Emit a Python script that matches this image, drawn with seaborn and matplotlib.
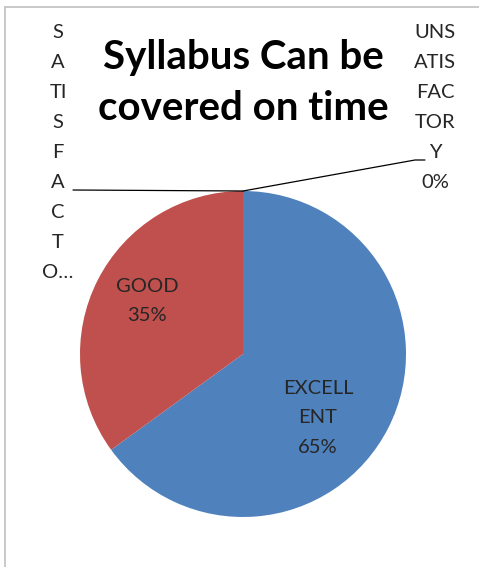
import matplotlib
matplotlib.use("Agg")
import matplotlib.pyplot as plt
import seaborn as sns
import numpy as np
from matplotlib.lines import Line2D

# data
categories = ["EXCELLENT", "GOOD", "SATISFACTORY", "UNSATISFACTORY"]
percent = [65, 35, 0, 0]
# labels as wrapped in the original chart
label_lines = [
    ["EXCELL", "ENT"],
    ["GOOD"],
    ["S", "A", "TI", "S", "F", "A", "C", "T", "O…"],
    ["UNS", "ATIS", "FAC", "TOR", "Y"],
]
colors = ["#4F81BD", "#C0504D", "#9BBB59", "#8064A2"]
title = ["Syllabus Can be", "covered on time"]

sns.set_theme(style="white")
plt.rcParams["font.family"] = ["Lato", "DejaVu Sans"]

W, H = 479, 567
fig = plt.figure(figsize=(W / 100, H / 100), dpi=100)

# pie centre / radius in pixels
cx, cy, R = 243, 354, 163

def px(x, y):
    return (x - cx) / R, (cy - y) / R

ax = fig.add_axes([0, 0, 1, 1])
wedges, _ = ax.pie(percent, colors=colors, startangle=90, counterclock=False,
                   wedgeprops=dict(linewidth=0))
ax.set_xlim(px(0, 0)[0], px(W, 0)[0])
ax.set_ylim(px(0, H)[1], px(0, 0)[1])
ax.set_aspect("auto")
ax.axis("off")

# chart border (partially cropped in the original)
fig.add_artist(Line2D([5 / W, 1], [1 - 7 / H, 1 - 7 / H], color="#C0C0C0", lw=1.2,
                      transform=fig.transFigure))
fig.add_artist(Line2D([5 / W, 5 / W], [0, 1 - 7 / H], color="#C0C0C0", lw=1.2,
                      transform=fig.transFigure))

def stack(lines, x, y0, step, **kw):
    for i, s in enumerate(lines):
        ax.text(*px(x, y0 + i * step), s, ha="center", va="center", **kw)

# title
stack(title, 243, 57, 52, fontsize=29, fontweight="bold", color="black")

lab_size = 14.5
step = 29.9
# inside labels
stack(label_lines[0] + [f"{percent[0]}%"], 318, 388, step, fontsize=lab_size)
stack(label_lines[1] + [f"{percent[1]}%"], 147, 286, step, fontsize=lab_size)

# outside labels with leader lines, anchored at the wedge edge
top = wedges[2].theta1
ax_, ay_ = np.cos(np.deg2rad(top)), np.sin(np.deg2rad(top))
stack(label_lines[2], 58, 33, step, fontsize=lab_size)
x1, y1 = px(73, 190)
ax.plot([ax_, x1], [ay_, y1], color="black", lw=0.9)

stack(label_lines[3] + [f"{percent[3]}%"], 435, 33, step, fontsize=lab_size)
x2, y2 = px(415, 160)
x3, y3 = px(425, 160)
ax.plot([ax_, x2, x3], [ay_, y2, y3], color="black", lw=0.9)

fig.savefig("out.png", dpi=100)
